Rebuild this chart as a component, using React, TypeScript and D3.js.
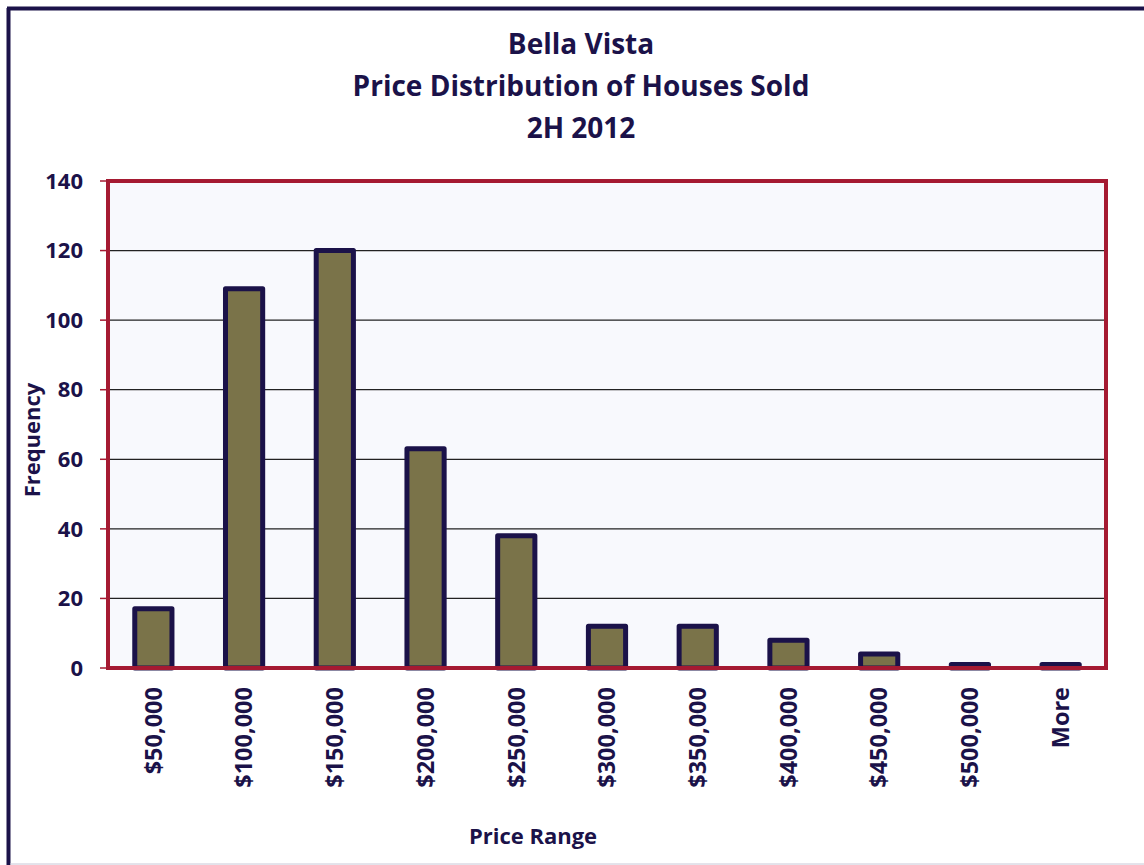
import React from "react";
import * as d3 from "d3";

const categories = ["$50,000", "$100,000", "$150,000", "$200,000", "$250,000", "$300,000", "$350,000", "$400,000", "$450,000", "$500,000", "More"];
const frequencies = [17, 109, 120, 63, 38, 12, 12, 8, 4, 1, 1];
const yTicks = [0, 20, 40, 60, 80, 100, 120, 140];
const titleLines = ["Bella Vista", "Price Distribution of Houses Sold", "2H 2012"];

const W = 1144, H = 865;
const plot = { left: 108, right: 1106, top: 181, bottom: 668 };
const NAVY = "#1B1249";
const FONT = "'Open Sans', Lato, sans-serif";

export default function App() {
  const x = d3.scaleBand<string>().domain(categories).range([plot.left, plot.right]).paddingInner(0.59).paddingOuter(0.295);
  const y = d3.scaleLinear().domain([0, 140]).range([plot.bottom, plot.top]);
  return (
    <svg width={W} height={H} style={{ position: "absolute", left: 0, top: 0, background: "#fff" }}>
      {/* outer frame */}
      <line x1={8.5} y1={8} x2={8.5} y2={H} stroke={NAVY} strokeWidth={4} />
      <line x1={7} y1={8.5} x2={W} y2={8.5} stroke={NAVY} strokeWidth={4} />
      <line x1={10} y1={864} x2={W} y2={864} stroke="#c8c6d6" strokeWidth={1} />
      {/* title */}
      {titleLines.map((t, i) => (
        <text key={t} x={581} y={54 + i * 42} textAnchor="middle" fontFamily={FONT} fontWeight="bold" fontSize={28} fill={NAVY}>{t}</text>
      ))}
      {/* plot bg */}
      <rect x={plot.left} y={plot.top} width={plot.right - plot.left} height={plot.bottom - plot.top} fill="#F8F9FD" />
      {/* gridlines */}
      {yTicks.filter(v => v > 0 && v < 140).map(v => (
        <line key={v} x1={plot.left} x2={plot.right} y1={y(v)} y2={y(v)} stroke="#222" strokeWidth={1.2} />
      ))}
      {/* bars */}
      {frequencies.map((v, i) => (
        <rect key={categories[i]} x={x(categories[i])!} y={y(v)} width={x.bandwidth()} height={plot.bottom - y(v)}
          fill="#7A7349" stroke={NAVY} strokeWidth={5} strokeLinejoin="round" />
      ))}
      {/* plot border */}
      <rect x={plot.left} y={plot.top} width={plot.right - plot.left} height={plot.bottom - plot.top} fill="none" stroke="#A51A32" strokeWidth={4} />
      {/* y ticks */}
      {yTicks.map(v => (
        <g key={v}>
          <line x1={plot.left - 8} x2={plot.left} y1={y(v)} y2={y(v)} stroke="#A51A32" strokeWidth={1.5} />
          <text x={83} y={y(v)} dy="0.35em" textAnchor="end" fontFamily={FONT} fontWeight="bold" fontSize={22} fill={NAVY}>{v}</text>
        </g>
      ))}
      {/* x labels */}
      {categories.map(c => {
        const cx = x(c)! + x.bandwidth() / 2;
        return (
          <text key={c} transform={`translate(${cx},${687}) rotate(-90)`} dy="0.35em" textAnchor="end" fontFamily={FONT} fontWeight="bold" fontSize={23.5} fill={NAVY}>{c}</text>
        );
      })}
      {/* axis titles */}
      <text transform={`translate(32,${440}) rotate(-90)`} dy="0.35em" textAnchor="middle" fontFamily={FONT} fontWeight="bold" fontSize={22} fill={NAVY}>Frequency</text>
      <text x={533} y={836} dy="0.35em" textAnchor="middle" fontFamily={FONT} fontWeight="bold" fontSize={22} fill={NAVY}>Price Range</text>
    </svg>
  );
}
